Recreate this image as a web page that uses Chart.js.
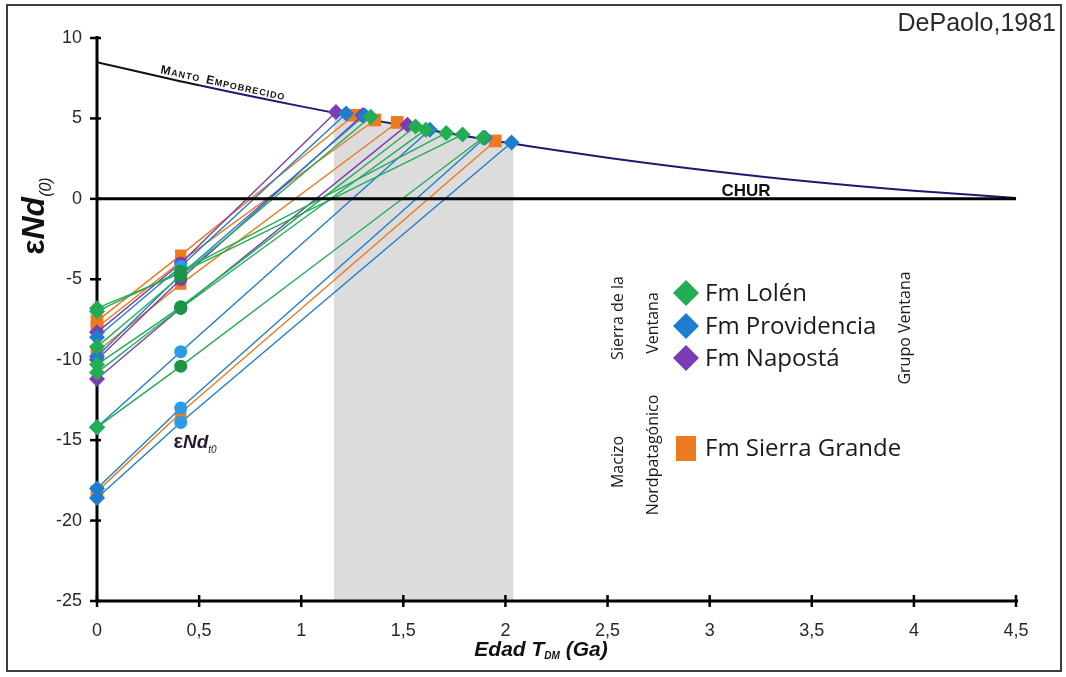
<!DOCTYPE html>
<html>
<head>
<meta charset="utf-8">
<script src="https://cdn.jsdelivr.net/npm/chart.js@4"></script>
<style>
  html, body { margin: 0; padding: 0; background: #fff; }
  #wrap { position: relative; width: 1066px; height: 677px; }
  #frame { position: absolute; left: 6px; top: 4px; width: 1056px; height: 668px;
           border: 2px solid #3c3c3c; box-sizing: border-box; pointer-events: none; }
  canvas { position: absolute; left: 0; top: 0; }
</style>
</head>
<body>
<div id="wrap">
  <canvas id="c" width="1066" height="677"></canvas>
  <div id="frame"></div>
</div>
<script>
// Axis ticks
const xTickValues = [0, 0.5, 1, 1.5, 2, 2.5, 3, 3.5, 4, 4.5];
const yTickValues = [10, 5, 0, -5, -10, -15, -20, -25];

// Depleted mantle evolution curve (DePaolo, 1981)
const dmAge = [0, 0.5, 1, 1.5, 2, 2.5, 3, 3.5, 4, 4.5];
const dmEps = [8.5, 7.06, 5.75, 4.56, 3.5, 2.56, 1.75, 1.06, 0.5, 0.06];

// CHUR reference line
const churAge = [0, 4.5];
const churEps = [0, 0];

// Shaded T_DM range
const shadeAge = [1.16, 1.4, 1.7, 2.04];
const shadeEps = [5.36, 4.79, 4.18, 3.42];

// Deposition age of the samples (Ga)
const depositionAge = 0.41;

// Fm Lolén
const lolenEps0   = [-9.2, -10.3, -10.8, -7.0, -6.8, -14.2];
const lolenEpsT   = [-4.8, -6.7, -6.8, -4.5, -4.6, -10.4];
const lolenTdm    = [1.34, 1.56, 1.61, 1.71, 1.79, 1.89];
const lolenEpsDm  = [5.1, 4.5, 4.3, 4.1, 4.0, 3.8];

// Fm Providencia
const provEps0    = [-8.6, -9.8, -14.2, -18.0, -18.6];
const provEpsT    = [-4.2, -4.7, -9.5, -13.0, -13.9];
const provTdm     = [1.22, 1.31, 1.63, 1.90, 2.03];
const provEpsDm   = [5.3, 5.2, 4.3, 3.8, 3.5];

// Fm Napostá
const napostaEps0  = [-8.3, -10.0, -11.2];
const napostaEpsT  = [-4.0, -5.0, -6.8];
const napostaTdm   = [1.17, 1.30, 1.52];
const napostaEpsDm = [5.4, 5.2, 4.6];

// Fm Sierra Grande
const sgEps0   = [-7.6, -8.0, -9.5, -18.2];
const sgEpsT   = [-3.5, -3.9, -5.3, -13.3];
const sgTdm    = [1.26, 1.36, 1.47, 1.95];
const sgEpsDm  = [5.2, 4.9, 4.75, 3.6];

const formations = [
  { name: 'Fm Lolén',         color: '#22ad55', mid: '#1c9446', shape: 'rectRot', e0: lolenEps0,   et: lolenEpsT,   tdm: lolenTdm,   edm: lolenEpsDm,   tension: 0.25 },
  { name: 'Fm Providencia',   color: '#1f7dd0', mid: '#2a9be6', shape: 'rectRot', e0: provEps0,    et: provEpsT,    tdm: provTdm,    edm: provEpsDm,    tension: 0 },
  { name: 'Fm Napostá',       color: '#7a3db5', mid: '#7a3db5', shape: 'rectRot', e0: napostaEps0, et: napostaEpsT, tdm: napostaTdm, edm: napostaEpsDm, tension: 0 },
  { name: 'Fm Sierra Grande', color: '#ee7a1f', mid: '#ee7a1f', shape: 'rect',    e0: sgEps0,      et: sgEpsT,      tdm: sgTdm,      edm: sgEpsDm,      tension: 0 }
];

const datasets = [];

datasets.push({
  label: 'shade',
  data: shadeAge.map((a, i) => ({ x: a, y: shadeEps[i] })),
  borderWidth: 0, pointRadius: 0, tension: 0.3,
  backgroundColor: '#dcdcdc',
  fill: { value: -25 },
  order: 100
});

datasets.push({
  label: 'Manto empobrecido',
  data: dmAge.map((a, i) => ({ x: a, y: dmEps[i] })),
  borderWidth: 2, pointRadius: 0,
  cubicInterpolationMode: 'monotone',
  borderColor: '#1d1a6e',
  segment: { borderColor: ctx => ctx.p0.parsed.x < 0.5 ? '#111' : '#1d1a6e' },
  order: 90
});

formations.forEach(f => {
  f.e0.forEach((v, i) => {
    const isRect = f.shape === 'rect';
    datasets.push({
      label: f.name,
      data: [
        { x: 0, y: v },
        { x: depositionAge, y: f.et[i] },
        { x: f.tdm[i], y: f.edm[i] }
      ],
      borderColor: f.color,
      borderWidth: 1.4,
      tension: f.tension,
      clip: false,
      pointStyle: isRect ? ['rect', 'rect', 'rect'] : [f.shape, 'circle', f.shape],
      pointRadius: isRect ? [9, 8, 9] : [8, 6.5, 8],
      pointBackgroundColor: [f.color, f.mid, f.color],
      pointBorderWidth: 0,
      pointBorderColor: 'rgba(0,0,0,0)',
      fill: false,
      order: 50
    });
  });
});

datasets.push({
  label: 'CHUR',
  data: churAge.map((a, i) => ({ x: a, y: churEps[i] })),
  borderColor: '#000', borderWidth: 3, pointRadius: 0,
  order: 40
});

function drawAxes(chart) {
  const { ctx, chartArea: ca, scales: { x, y } } = chart;
  ctx.save();
  ctx.strokeStyle = '#000';
  ctx.lineWidth = 3;
  ctx.beginPath();
  ctx.moveTo(ca.left, ca.top - 2);
  ctx.lineTo(ca.left, ca.bottom);
  ctx.lineTo(ca.right + 2, ca.bottom);
  ctx.stroke();
  ctx.lineWidth = 2.5;
  yTickValues.forEach(v => {
    const py = y.getPixelForValue(v);
    ctx.beginPath(); ctx.moveTo(ca.left - 7, py); ctx.lineTo(ca.left + 4, py); ctx.stroke();
  });
  xTickValues.forEach(v => {
    const px = x.getPixelForValue(v);
    ctx.beginPath(); ctx.moveTo(px, ca.bottom - 6); ctx.lineTo(px, ca.bottom + 6); ctx.stroke();
  });
  ctx.restore();
}

function drawRich(ctx, parts, x, y, align) {
  let total = 0;
  parts.forEach(p => { ctx.font = p.font; p.w = ctx.measureText(p.t).width; total += p.w; });
  let cx = align === 'center' ? x - total / 2 : x;
  parts.forEach(p => {
    ctx.font = p.font;
    ctx.fillText(p.t, cx, y + (p.dy || 0));
    cx += p.w;
  });
}

const SANS = '"Liberation Sans", Arial, sans-serif';

const decor = {
  id: 'decor',
  beforeDraw(chart) { chart.$axesDone = false; },
  beforeDatasetDraw(chart, args) {
    if (!chart.$axesDone && chart.data.datasets[args.index].label !== 'shade') {
      drawAxes(chart);
      chart.$axesDone = true;
    }
  },
  afterDraw(chart) {
    const { ctx } = chart;
    ctx.save();
    ctx.textBaseline = 'alphabetic';
    ctx.fillStyle = '#2a2a2a';

    // Reference
    ctx.font = '25px ' + SANS;
    ctx.textAlign = 'right';
    ctx.fillText('DePaolo,1981', 1056, 31);

    // CHUR label
    ctx.textAlign = 'center';
    ctx.fillStyle = '#111';
    ctx.font = 'bold 17px ' + SANS;
    ctx.fillText('CHUR', 746, 196);

    // Depleted mantle label, in small caps along the curve
    ctx.save();
    ctx.translate(160, 73);
    ctx.rotate(0.215);
    ctx.textAlign = 'left';
    const words = ['Manto', 'Empobrecido'];
    let cx = 0;
    words.forEach(w => {
      for (let k = 0; k < w.length; k++) {
        const big = k === 0;
        ctx.font = (big ? 'bold 12px ' : 'bold 9px ') + SANS;
        const ch = w[k].toUpperCase();
        ctx.fillText(ch, cx, 0);
        cx += ctx.measureText(ch).width + 1;
      }
      cx += 6;
    });
    ctx.restore();

    // εNd(t0) label
    ctx.textAlign = 'left';
    ctx.fillStyle = '#2a1830';
    drawRich(ctx, [
      { t: 'ε', font: 'bold 20px ' + SANS },
      { t: 'Nd', font: 'bold italic 19px ' + SANS },
      { t: 't0', font: 'italic 10px ' + SANS, dy: 5 }
    ], 195, 448, 'center');

    // Y axis title
    ctx.save();
    ctx.translate(44, 216);
    ctx.rotate(-Math.PI / 2);
    ctx.fillStyle = '#111';
    drawRich(ctx, [
      { t: 'ε', font: 'bold 32px ' + SANS },
      { t: 'Nd', font: 'bold italic 32px ' + SANS },
      { t: '(0)', font: 'italic 16px ' + SANS, dy: 7 }
    ], 0, 0, 'center');
    ctx.restore();

    // X axis title
    ctx.fillStyle = '#111';
    drawRich(ctx, [
      { t: 'Edad T', font: 'bold italic 21px ' + SANS },
      { t: 'DM', font: 'bold italic 10px ' + SANS, dy: 3 },
      { t: ' (Ga)', font: 'bold italic 21px ' + SANS }
    ], 541, 656, 'center');

    // Legend
    const legendRows = [
      { f: formations[0], y: 293 },
      { f: formations[1], y: 326 },
      { f: formations[2], y: 358 },
      { f: formations[3], y: 448 }
    ];
    legendRows.forEach(r => {
      ctx.fillStyle = r.f.color;
      ctx.beginPath();
      if (r.f.shape === 'rect') {
        ctx.rect(676, r.y - 12, 20, 25);
      } else {
        ctx.moveTo(686, r.y - 13);
        ctx.lineTo(699, r.y);
        ctx.lineTo(686, r.y + 13);
        ctx.lineTo(673, r.y);
        ctx.closePath();
      }
      ctx.fill();
      ctx.fillStyle = '#1a1a1a';
      ctx.font = '24px "Open Sans", sans-serif';
      ctx.textAlign = 'left';
      ctx.textBaseline = 'middle';
      ctx.fillText(r.f.name, 705, r.y + 1);
    });

    // Group labels (vertical)
    const vText = (t, px, py) => {
      ctx.save();
      ctx.translate(px, py);
      ctx.rotate(-Math.PI / 2);
      ctx.textAlign = 'center';
      ctx.textBaseline = 'middle';
      ctx.fillStyle = '#1a1a1a';
      ctx.font = '16px "Open Sans", sans-serif';
      ctx.fillText(t, 0, 0);
      ctx.restore();
    };
    vText('Sierra de la', 618, 318);
    vText('Ventana', 653, 323);
    vText('Grupo Ventana', 905, 328);
    vText('Macizo', 618, 462);
    vText('Nordpatagónico', 653, 455);

    ctx.restore();
  }
};

new Chart(document.getElementById('c'), {
  type: 'line',
  data: { datasets },
  plugins: [decor],
  options: {
    responsive: false,
    animation: false,
    layout: { padding: { top: 38, right: 50, left: 0, bottom: 0 } },
    plugins: { legend: { display: false }, tooltip: { enabled: false } },
    scales: {
      x: {
        type: 'linear', min: 0, max: 4.5,
        afterBuildTicks: s => { s.ticks = xTickValues.map(v => ({ value: v })); },
        afterFit: s => { s.height = 76; },
        grid: { display: false, drawTicks: false },
        border: { display: false },
        ticks: {
          padding: 19,
          color: '#2a2a2a',
          font: { family: SANS, size: 18 },
          callback: v => String(v).replace('.', ',')
        }
      },
      y: {
        type: 'linear', min: -25, max: 10,
        afterBuildTicks: s => { s.ticks = yTickValues.map(v => ({ value: v })); },
        afterFit: s => { s.width = 97; },
        grid: { display: false, drawTicks: false },
        border: { display: false },
        ticks: {
          padding: 15,
          color: '#2a2a2a',
          font: { family: SANS, size: 18 }
        }
      }
    }
  }
});
</script>
</body>
</html>
